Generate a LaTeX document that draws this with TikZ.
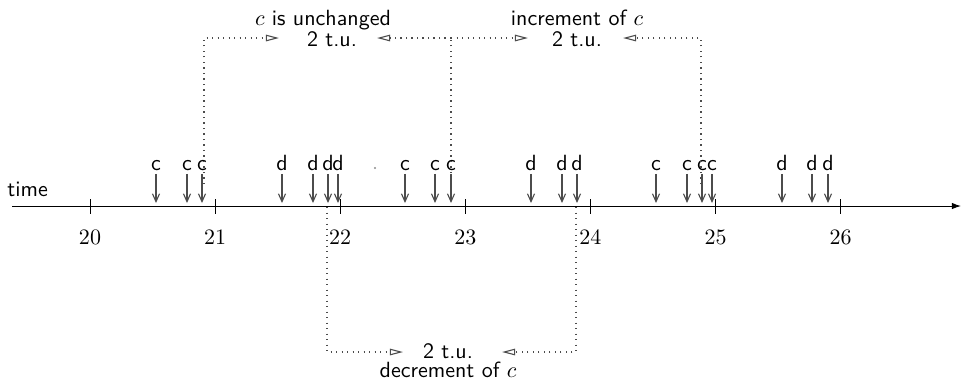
\documentclass[tikz,border=0pt]{standalone}
\usetikzlibrary{arrows.meta}
\begin{document}
\begin{tikzpicture}[x=0.4545pt,y=-0.4545pt,
  lbl/.style={font=\sffamily, inner sep=0pt, anchor=base},
  num/.style={inner sep=0pt, anchor=base},
  ev/.style={draw=black!70, line width=0.5pt, shorten <=1.4pt, -{Straight Barb[length=3.6pt,width=3.2pt]}},
  dt/.style={draw=black!70, dotted, line width=0.5pt},
  dta/.style={dt, -{Triangle[open,length=6pt,width=3pt]}},
  ]
\useasboundingbox (0,0) rectangle (961,384);
% axis
\coordinate (a0) at (12,206);
\coordinate (a1) at (961,206);
\draw[line width=0.45pt, -{Latex[length=4.2pt,width=3pt]}] (a0) -- (a1);
\node[lbl, anchor=base west] (time) at (7,196) {time};
% ticks and numbers
\foreach \n [evaluate=\n as \xx using {90+(\n-20)*125.1}] in {20,...,26}{
  \coordinate (tt\n) at (\xx,199);
  \coordinate (tb\n) at (\xx,214);
  \draw[line width=0.45pt] (tt\n) -- (tb\n);
  \node[num] (n\n) at (\xx,244) {\n};
}
% events
\foreach \xx/\l [count=\i] in {156/c,187/c,202/c,282/d,313/d,328/d,338/d,405/c,435/c,451/c,531/d,562/d,577/d,656/c,687/c,702/c,712/c,782/d,812/d,828/d}{
  \node[lbl] (l\i) at (\xx,170) {\l};
  \coordinate (e\i) at (\xx,203);
  \draw[ev] (l\i.south) -- (e\i);
}
\node[circle, fill=black!45, inner sep=0pt, minimum size=1pt] (dot) at (375,168) {};
% top texts
\node[lbl] (u1) at (323,25) {$c$ is unchanged};
\node[lbl] (t1) at (332,46.5) {2 t.u.};
\node[lbl] (u2) at (577,25) {increment of $c$};
\node[lbl] (t2) at (577,46.5) {2 t.u.};
% bottom texts
\node[lbl] (t3) at (448,358) {2 t.u.};
\node[lbl] (u3) at (448,377) {decrement of $c$};
% dotted connectors
\coordinate (v1b) at (204,184); \coordinate (v1t) at (204,38); \coordinate (h1) at (279,38);
\coordinate (v2b) at (451,184); \coordinate (v2t) at (451,38);
\coordinate (h2l) at (377,38); \coordinate (h2r) at (528,38);
\coordinate (v3b) at (701,184); \coordinate (v3t) at (701,38); \coordinate (h3) at (623,38);
\coordinate (v4t) at (327,207); \coordinate (v4b) at (327,352); \coordinate (h4) at (403,352);
\coordinate (v5t) at (576,207); \coordinate (v5b) at (576,352); \coordinate (h5) at (502,352);
\draw[dta] (v1b) -- (v1t) -- (h1);
\draw[dt] (v2b) -- (v2t);
\draw[dta] (v2t) -- (h2l);
\draw[dta] (v2t) -- (h2r);
\draw[dta] (v3b) -- (v3t) -- (h3);
\draw[dta] (v4t) -- (v4b) -- (h4);
\draw[dta] (v5t) -- (v5b) -- (h5);
\end{tikzpicture}
\end{document}
